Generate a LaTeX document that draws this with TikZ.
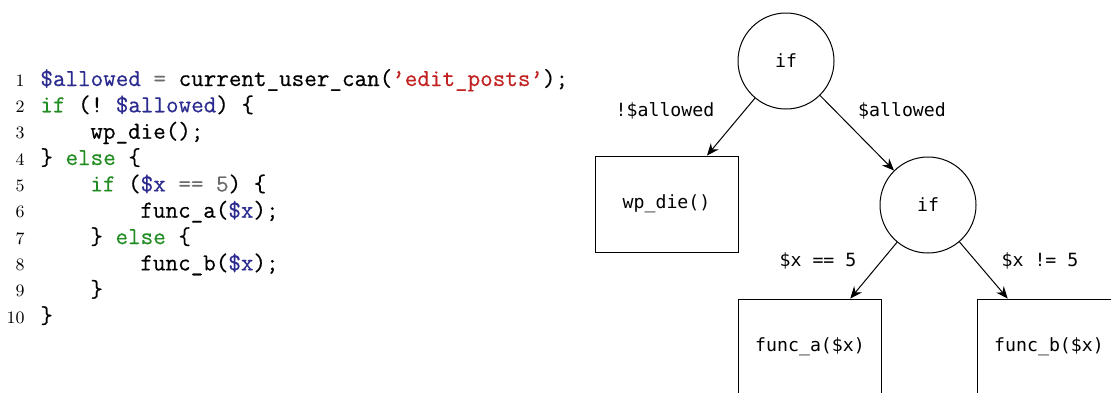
\documentclass[tikz,border=0pt]{standalone}
\usepackage{fontspec}
\setmonofont[FakeBold=0.5]{Latin Modern Mono}
\newfontfamily\treefont{DejaVu Sans Mono}
\usetikzlibrary{arrows.meta}

\definecolor{kwgreen}{rgb}{0.13,0.55,0.13}
\definecolor{varblue}{rgb}{0.17,0.17,0.56}
\definecolor{strred}{rgb}{0.76,0.13,0.13}
\definecolor{opgray}{rgb}{0.42,0.42,0.42}

\newcommand{\cKw}[1]{\textcolor{kwgreen}{#1}}
\newcommand{\cVar}[1]{\textcolor{varblue}{#1}}
\newcommand{\cStr}[1]{\textcolor{strred}{#1}}
\newcommand{\cOp}[1]{\textcolor{opgray}{#1}}

\tikzset{
  codeline/.style={anchor=base west, inner sep=0pt,
    font=\ttfamily\fontsize{12.2}{13}\selectfont},
  lineno/.style={anchor=base east, inner sep=0pt,
    font=\rmfamily\fontsize{8.7}{10}\selectfont},
  test/.style={draw, circle, line width=0.5pt, minimum size=48pt,
    inner sep=0pt, font=\treefont\fontsize{9.1}{10}\selectfont},
  leaf/.style={draw, rectangle, line width=0.5pt, minimum width=71.5pt,
    minimum height=48pt, inner sep=0pt, font=\treefont\fontsize{9.1}{10}\selectfont},
  branch/.style={inner sep=0pt, font=\treefont\fontsize{9.1}{10}\selectfont},
  arr/.style={line width=0.5pt, -{Stealth[length=6pt,width=5pt,inset=2pt]}}
}

\begin{document}
\begin{tikzpicture}[x=0.5pt,y=-0.5pt]
\useasboundingbox (0,0) rectangle (1111,392);
\clip (0,0) rectangle (1111,392);

% PHP listing
\node[lineno] (n1)  at (25,86)    {1};
\node[lineno] (n2)  at (25,112.3) {2};
\node[lineno] (n3)  at (25,138.7) {3};
\node[lineno] (n4)  at (25,165)   {4};
\node[lineno] (n5)  at (25,191.4) {5};
\node[lineno] (n6)  at (25,217.7) {6};
\node[lineno] (n7)  at (25,244.1) {7};
\node[lineno] (n8)  at (25,270.4) {8};
\node[lineno] (n9)  at (25,296.8) {9};
\node[lineno] (n10) at (25,323.1) {10};

\node[codeline] (l1)  at (40,86)    {\cVar{\$allowed} \cOp{=} current\_user\_can(\cStr{’edit\_posts’});};
\node[codeline] (l2)  at (40,112.3) {\cKw{if} (! \cVar{\$allowed}) \{};
\node[codeline] (l3)  at (90,138.7) {wp\_die();};
\node[codeline] (l4)  at (40,165)   {\} \cKw{else} \{};
\node[codeline] (l5)  at (90,191.4) {\cKw{if} (\cVar{\$x} \cOp{==} \cOp{5}) \{};
\node[codeline] (l6)  at (140,217.7){func\_a(\cVar{\$x});};
\node[codeline] (l7)  at (90,244.1) {\} \cKw{else} \{};
\node[codeline] (l8)  at (140,270.4){func\_b(\cVar{\$x});};
\node[codeline] (l9)  at (90,296.8) {\}};
\node[codeline] (l10) at (40,323.1) {\}};

% decision tree
\node[test] (c1) at (786,61)   {if};
\node[leaf] (wp) at (666.5,204) {wp\_die()};
\node[test] (c2) at (928,205)  {if};
\node[leaf] (fa) at (810,347)  {func\_a(\$x)};
\node[leaf] (fb) at (1049,347) {func\_b(\$x)};

\draw[arr] (c1) -- (wp);
\draw[arr] (c1) -- (c2);
\draw[arr] (c2) -- (fa);
\draw[arr] (c2) -- (fb);

\node[branch] (b1) at (665,111)  {!\$allowed};
\node[branch] (b2) at (902,111)  {\$allowed};
\node[branch] (b3) at (818,261)  {\$x == 5};
\node[branch] (b4) at (1040,261) {\$x != 5};
\end{tikzpicture}
\end{document}
